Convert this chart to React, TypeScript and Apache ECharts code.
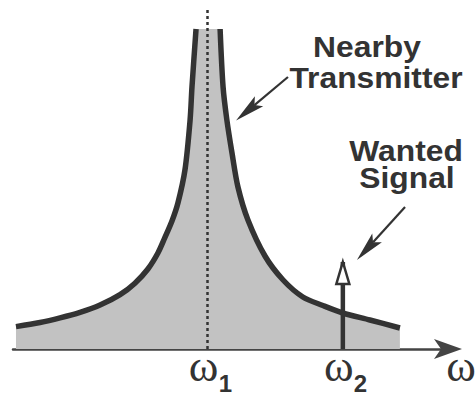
import { useEffect, useRef } from "react";
import * as echarts from "echarts";

// ---- data (frequency in arbitrary units, level in arbitrary units) ----
const xMin = 2.8;
const xMax = 19.0;
const yMin = 0;
const yMax = 34;

const transmitterLeftX = [2.91, 3.8, 4.54, 5.28, 6.02, 6.76, 7.31, 7.79, 8.16, 8.42, 8.68, 8.9, 9.16, 9.35, 9.42, 9.57];
const transmitterLeftY = [2.24, 2.65, 3.11, 3.66, 4.39, 5.43, 6.58, 8.0, 9.6, 11.16, 12.8, 14.6, 17.9, 22.9, 26.2, 32.0];
const transmitterRightX = [10.46, 10.57, 10.71, 10.9, 11.12, 11.49, 12.12, 12.79, 13.52, 14.26, 15.0, 16.0, 17.11];
const transmitterRightY = [32.0, 26.2, 22.9, 19.6, 16.2, 12.9, 9.3, 6.9, 5.2, 4.35, 3.6, 2.9, 2.1];

const omega1 = 10;
const omega2 = 15;
const wantedSignalLevel = 8.7;

const tickValues = [omega1, omega2];
const tickSubscripts = ["1", "2"];
const axisName = "ω";

const nearbyLabel = ["Nearby", "Transmitter"];
const wantedLabel = ["Wanted", "Signal"];
const nearbyArrowTail = [12.97, 27.2];
const nearbyArrowTip = [11.05, 22.85];
const wantedArrowTail = [17.3, 14.2];
const wantedArrowTip = [15.52, 8.9];

const INK = "#333333";
const FILL = "#c2c2c2";

function zip(xs: number[], ys: number[]) {
  return xs.map((x, i) => [x, ys[i]]);
}

function arrowHead(tip: number[], tail: number[], len: number, halfW: number, notch: number) {
  const dx = tip[0] - tail[0];
  const dy = tip[1] - tail[1];
  const d = Math.hypot(dx, dy);
  const ux = dx / d, uy = dy / d;
  const nx = -uy, ny = ux;
  const bx = tip[0] - ux * len, by = tip[1] - uy * len;
  const back = [tip[0] - ux * (len - notch), tip[1] - uy * (len - notch)];
  return {
    points: [
      [tip[0], tip[1]],
      [bx + nx * halfW, by + ny * halfW],
      back,
      [bx - nx * halfW, by - ny * halfW],
    ],
    back,
  };
}

export default function App() {
  const ref = useRef<HTMLDivElement>(null);
  useEffect(() => {
    if (!ref.current) return;
    const chart = echarts.init(ref.current, undefined, { renderer: "svg" });
    const left = zip(transmitterLeftX, transmitterLeftY);
    const right = zip(transmitterRightX, transmitterRightY);
    chart.setOption({
      animation: false,
      grid: { left: 13, right: 24, top: 9, bottom: 47 },
      xAxis: {
        type: "value",
        min: xMin,
        max: xMax,
        splitLine: { show: false },
        axisTick: { show: false },
        axisLabel: { show: false },
        axisLine: {
          show: true,
          onZero: false,
          symbol: ["none", "arrow"],
          symbolSize: [15, 28],
          symbolOffset: [0, 11],
          lineStyle: { color: "#444", width: 2.5 },
        },
      },
      yAxis: {
        type: "value",
        min: yMin,
        max: yMax,
        show: false,
        splitLine: { show: false },
      },
      series: [
        {
          name: "area",
          type: "line",
          z: 1,
          data: [...left, ...right],
          smooth: 0.3,
          showSymbol: false,
          lineStyle: { width: 0 },
          areaStyle: { color: FILL, opacity: 1 },
          silent: true,
        },
        {
          name: "wanted",
          type: "line",
          z: 2,
          data: [
            [omega2, 0],
            [omega2, wantedSignalLevel],
          ],
          showSymbol: false,
          lineStyle: { color: INK, width: 4.5 },
          silent: true,
        },
        {
          name: "transmitter",
          type: "line",
          z: 3,
          data: [...left, [omega1, "-"], ...right],
          smooth: 0.3,
          connectNulls: false,
          showSymbol: false,
          lineStyle: { color: INK, width: 5.5, cap: "butt" },
          silent: true,
          markLine: {
            silent: true,
            symbol: ["none", "none"],
            label: { show: false },
            lineStyle: { color: INK, width: 2.5, type: [3, 3] },
            data: [{ xAxis: omega1 }],
          },
        },
      ],
    });

    const px = (p: number[]) => chart.convertToPixel({ gridIndex: 0 }, p) as number[];
    const graphics: any[] = [];
    const addArrow = (tail: number[], tip: number[]) => {
      const t = px(tail), h = px(tip);
      const head = arrowHead(h, t, 30, 6.5, 6);
      graphics.push({
        type: "line",
        z: 100,
        shape: { x1: t[0], y1: t[1], x2: head.back[0], y2: head.back[1] },
        style: { stroke: INK, lineWidth: 2.2 },
      });
      graphics.push({
        type: "polygon",
        z: 100,
        shape: { points: head.points },
        style: { fill: INK },
      });
    };
    addArrow(nearbyArrowTail, nearbyArrowTip);
    addArrow(wantedArrowTail, wantedArrowTip);

    const tipPx = px([omega2, wantedSignalLevel]);
    graphics.push({
      type: "polygon",
      z: 100,
      shape: {
        points: [
          [tipPx[0], tipPx[1]],
          [tipPx[0] + 6.5, tipPx[1] + 22],
          [tipPx[0] - 6.5, tipPx[1] + 22],
        ],
      },
      style: { fill: "#ffffff", stroke: INK, lineWidth: 2.5, lineJoin: "miter" },
    });

    const label = (text: string, x: number, y: number) => ({
      type: "text",
      z: 100,
      x,
      y,
      scaleX: 1.06,
      style: {
        text,
        fontSize: 30,
        lineHeight: 25,
        fontWeight: "bold",
        fontFamily: "Liberation Sans",
        fill: INK,
        align: "center",
        verticalAlign: "top",
      },
    });
    graphics.push(label(nearbyLabel[0], 367, 34));
    graphics.push(label(nearbyLabel[1], 376, 65));
    graphics.push(label(wantedLabel[0], 406, 138));
    graphics.push(label(wantedLabel[1], 407, 165));

    // axis tick labels: ω with subscript, placed at the axis values
    const axisY = px([xMin, yMin])[1];
    const omegaText = (x: number, align: string) => ({
      type: "text",
      z: 100,
      x,
      y: axisY + 17,
      style: {
        text: axisName,
        fontSize: 45,
        fontFamily: "Liberation Serif",
        fill: INK,
        align,
        verticalAlign: "middle",
      },
    });
    tickValues.forEach((v, i) => {
      const x = px([v, yMin])[0];
      graphics.push(omegaText(x - 4, "center"));
      graphics.push({
        type: "text",
        z: 100,
        x: x + 11,
        y: axisY + 34,
        style: {
          text: tickSubscripts[i],
          fontSize: 24,
          fontWeight: "bold",
          fontFamily: "Liberation Sans",
          fill: INK,
          align: "left",
          verticalAlign: "middle",
        },
      });
    });
    const axisEnd = px([xMax, yMin])[0];
    graphics.push(omegaText(axisEnd + 10, "center"));

    chart.setOption({ graphic: graphics });

    return () => chart.dispose();
  }, []);
  return (
    <div
      ref={ref}
      style={{ position: "fixed", left: 0, top: 0, width: 475, height: 396, background: "#fff" }}
    />
  );
}
